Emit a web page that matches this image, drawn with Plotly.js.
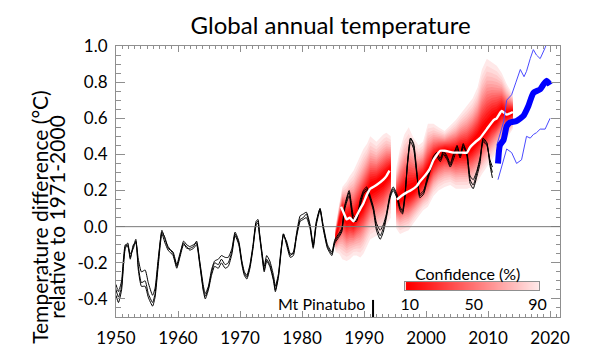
<!DOCTYPE html>
<html>
<head>
<meta charset="utf-8">
<script src="https://cdn.plot.ly/plotly-3.0.1.min.js"></script>
<style>html,body{margin:0;padding:0;background:#fff;}#chart{width:600px;height:362px;}</style>
</head>
<body>
<div id="chart"></div>
<script>
// ---------- observed annual temperature (three datasets, smoothed) ----------
const obsYears = [
 1950.0,1950.4,1950.9,1951.2,1951.5,1951.9,1952.3,1952.8,1953.2,1953.6,
 1954.1,1954.7,1955.2,1955.9,1956.3,1956.8,1957.4,1957.9,1958.4,1959.2,
 1959.8,1960.3,1960.9,1961.4,1961.9,1962.5,1963.0,1963.5,1964.1,1964.4,
 1964.9,1965.4,1965.9,1966.5,1967.0,1967.6,1968.1,1968.7,1969.2,1969.8,
 1970.3,1970.7,1971.1,1971.6,1972.1,1972.6,1972.9,1973.1,1973.5,1973.9,
 1974.3,1974.8,1975.4,1975.7,1976.2,1976.6,1977.0,1977.5,1978.1,1978.6,
 1979.1,1979.7,1980.2,1980.7,1981.3,1981.8,1982.3,1982.9,1983.4,1984.1,
 1984.8,1985.3,1985.9,1986.4,1986.9,1987.6,1988.3,1988.8,1989.4,1989.9,
 1990.4,1990.9,1991.5,1992.0,1992.6,1993.1,1993.6,1994.2,1994.7,1995.3,
 1995.8,1996.2,1996.6,1997.0,1997.5,1998.0,1998.5,1999.0,1999.6,2000.1,
 2000.6,2001.2,2001.7,2002.3,2002.8,2003.4,2003.9,2004.4,2005.0,2005.5,
 2006.0,2006.6,2007.1,2007.6,2008.2,2008.7,2009.2,2009.8,2010.3,2010.7];
const obsA = [
 -0.35,-0.39,-0.33,-0.20,-0.11,-0.09,-0.17,-0.11,-0.07,-0.22,
 -0.31,-0.30,-0.37,-0.42,-0.37,-0.20,-0.02,-0.07,-0.11,-0.15,
 -0.22,-0.16,-0.08,-0.10,-0.11,-0.10,-0.09,-0.20,-0.35,-0.385,
 -0.34,-0.255,-0.20,-0.21,-0.18,-0.21,-0.20,-0.135,-0.04,-0.09,
 -0.20,-0.26,-0.28,-0.22,-0.11,0.02,0.03,-0.03,-0.14,-0.24,
 -0.18,-0.21,-0.29,-0.35,-0.27,-0.14,-0.04,-0.09,-0.16,-0.14,
 -0.05,0.04,0.05,0.07,0.00,-0.11,0.02,0.10,0.00,-0.11,
 -0.15,-0.08,-0.05,-0.02,0.11,0.19,0.04,0.04,0.13,0.19,
 0.21,0.17,0.10,0.00,-0.05,-0.01,0.06,0.17,0.21,0.17,
 0.10,0.08,0.17,0.355,0.49,0.45,0.30,0.17,0.19,0.26,
 0.32,0.39,0.41,0.37,0.41,0.38,0.34,0.39,0.45,0.39,
 0.45,0.41,0.26,0.23,0.30,0.37,0.49,0.465,0.355,0.30];
const obsB = [
 -0.32,-0.36,-0.30,-0.18,-0.10,-0.11,-0.15,-0.12,-0.08,-0.18,
 -0.25,-0.24,-0.31,-0.38,-0.34,-0.18,-0.03,-0.06,-0.12,-0.14,
 -0.21,-0.15,-0.09,-0.12,-0.12,-0.11,-0.08,-0.19,-0.33,-0.37,
 -0.33,-0.24,-0.19,-0.18,-0.16,-0.17,-0.17,-0.12,-0.03,-0.08,
 -0.19,-0.25,-0.27,-0.21,-0.10,0.03,0.04,-0.02,-0.13,-0.22,
 -0.16,-0.19,-0.27,-0.33,-0.26,-0.13,-0.05,-0.08,-0.15,-0.15,
 -0.04,0.06,0.07,0.08,0.01,-0.10,0.03,0.10,0.01,-0.10,
 -0.14,-0.07,-0.04,-0.01,0.12,0.20,0.06,0.05,0.15,0.20,
 0.22,0.18,0.11,0.02,-0.02,0.01,0.07,0.18,0.22,0.18,
 0.11,0.09,0.18,0.34,0.47,0.43,0.29,0.18,0.20,0.25,
 0.31,0.38,0.39,0.36,0.40,0.37,0.33,0.37,0.43,0.38,
 0.44,0.40,0.28,0.26,0.31,0.38,0.47,0.45,0.37,0.33];
const obsC = [
 -0.38,-0.42,-0.35,-0.22,-0.12,-0.10,-0.18,-0.10,-0.09,-0.24,
 -0.33,-0.33,-0.39,-0.44,-0.39,-0.22,-0.04,-0.09,-0.13,-0.16,
 -0.23,-0.17,-0.10,-0.11,-0.13,-0.12,-0.10,-0.21,-0.36,-0.40,
 -0.35,-0.27,-0.22,-0.23,-0.20,-0.23,-0.22,-0.15,-0.05,-0.10,
 -0.21,-0.27,-0.29,-0.23,-0.12,0.01,0.02,-0.04,-0.15,-0.25,
 -0.19,-0.22,-0.30,-0.36,-0.28,-0.15,-0.04,-0.10,-0.17,-0.16,
 -0.06,0.03,0.04,0.05,-0.01,-0.12,0.01,0.09,-0.01,-0.12,
 -0.16,-0.09,-0.06,-0.03,0.10,0.17,0.03,0.03,0.12,0.18,
 0.20,0.16,0.09,-0.02,-0.07,-0.03,0.05,0.16,0.20,0.16,
 0.09,0.07,0.16,0.35,0.49,0.46,0.31,0.16,0.18,0.24,
 0.30,0.37,0.40,0.38,0.42,0.39,0.35,0.40,0.44,0.40,
 0.46,0.39,0.24,0.21,0.28,0.35,0.48,0.46,0.34,0.27];

// ---------- hindcast ensemble mean (white) ----------
const hindA_x = [1986.3,1986.8,1987.2,1987.7,1988.3,1988.8,1989.4,1989.9,1990.5,1991.0,1992.0,1993.1,1993.6,1994.1];
const hindA_y = [0.11,0.07,0.04,0.05,0.03,0.06,0.10,0.13,0.18,0.21,0.23,0.26,0.28,0.31];
const hindB_x = [1995.3,1996.0,1996.9,1997.5,1998.5,1999.0,2000.0,2000.6,2001.2,2002.3,2003.0,2004.4,2005.5,2006.6,2007.1,2008.0,2008.7,2009.8,2010.9,2011.4,2012.2,2013.0,2014.0];
const hindB_y = [0.15,0.17,0.19,0.20,0.225,0.25,0.29,0.32,0.37,0.42,0.42,0.41,0.41,0.41,0.44,0.47,0.49,0.54,0.59,0.60,0.64,0.62,0.635];

// ---------- hindcast 90% confidence envelopes ----------
const bandA_x   = [1985.4,1986.0,1986.5,1987.2,1987.7,1988.3,1988.8,1989.4,1989.9,1990.5,1991.0,1992.0,1993.1,1993.6,1994.3];
const bandA_mid = [-0.06,0.03,0.09,0.04,0.05,0.03,0.06,0.10,0.13,0.18,0.21,0.23,0.26,0.28,0.31];
const bandA_hi  = [0.00,0.13,0.22,0.25,0.28,0.31,0.35,0.39,0.43,0.46,0.50,0.47,0.51,0.52,0.50];
const bandA_lo  = [-0.14,-0.15,-0.18,-0.19,-0.18,-0.16,-0.16,-0.17,-0.15,-0.11,-0.07,-0.05,-0.02,0.01,0.05];
const bandB_x   = [1995.2,1995.8,1996.5,1997.2,1998.0,1998.8,1999.5,2000.3,2001.2,2002.0,2003.0,2003.9,2004.8,2005.6,2006.6,2007.5,2008.3,2009.0,2009.8,2010.6,2011.4,2012.2,2013.0,2014.0];
const bandB_mid = [0.15,0.16,0.18,0.19,0.21,0.24,0.26,0.30,0.37,0.40,0.42,0.41,0.41,0.42,0.42,0.45,0.48,0.51,0.54,0.58,0.60,0.64,0.62,0.635];
const bandB_hi  = [0.33,0.43,0.51,0.55,0.49,0.45,0.47,0.57,0.57,0.55,0.53,0.56,0.59,0.63,0.67,0.71,0.77,0.87,0.93,0.91,0.89,0.85,0.79,0.73];
const bandB_lo  = [-0.01,-0.04,-0.03,-0.02,0.02,0.06,0.09,0.11,0.17,0.20,0.22,0.23,0.21,0.21,0.21,0.22,0.25,0.29,0.33,0.37,0.41,0.45,0.49,0.54];

// ---------- forecast (blue) ----------
const fcX    = [2011.6,2011.9,2012.5,2013.0,2013.5,2014.6,2015.7,2016.5,2017.3,2018.4,2019.0,2019.5,2020.0];
const fcMid  = [0.35,0.45,0.48,0.556,0.576,0.585,0.613,0.668,0.74,0.76,0.79,0.807,0.785];
const fcHiX  = [2011.4,2012.5,2013.0,2013.8,2014.5,2015.2,2015.8,2016.2,2016.8,2017.3,2017.8,2018.4,2019.2,2019.6,2020.0];
const fcHi   = [0.45,0.58,0.70,0.73,0.80,0.87,0.83,0.86,0.93,0.98,0.95,0.93,0.99,1.03,1.02];
const fcLoX  = [2011.6,2012.2,2013.0,2013.8,2014.6,2015.4,2016.2,2016.8,2017.3,2017.8,2018.4,2019.2,2019.6,2020.0];
const fcLo   = [0.26,0.34,0.43,0.41,0.35,0.37,0.50,0.49,0.51,0.52,0.54,0.54,0.57,0.60];

// ---------- confidence levels (%) and their normal quantiles ----------
const levels = [90,85,80,75,70,65,60,55,50,45,40,35,30,25,20,15,10];
const levelZ = [1.645,1.440,1.282,1.150,1.036,0.935,0.842,0.755,0.674,0.598,0.524,0.454,0.385,0.319,0.253,0.189,0.126];
const confTickVals = [10,50,90];
const yTickVals = [-0.4,-0.2,0.0,0.2,0.4,0.6,0.8,1.0];
const yTickText = ['-0.4','-0.2','0.0','0.2','0.4','0.6','0.8','1.0'];
const eruptionYear = 1991.45;

const FONT = 'Lato, "Noto Sans", sans-serif';
const GRAY = '#8f8f8f';

function levelColor(p){
  const t = (p-10)/80;
  const g = Math.round(t*232);
  return 'rgb(255,'+g+','+g+')';
}

const traces = [];
function addBands(bx, mid, lo, hi){
  levels.forEach((p,i)=>{
    const r = Math.pow(levelZ[i]/levelZ[0], 0.8);
    const up = mid.map((m,k)=> m + (hi[k]-m)*r);
    const dn = mid.map((m,k)=> m - (m-lo[k])*r);
    traces.push({
      x: bx.concat(bx.slice().reverse()),
      y: dn.concat(up.slice().reverse()),
      fill:'toself', mode:'lines', line:{width:0},
      fillcolor: levelColor(p), hoverinfo:'skip', showlegend:false
    });
  });
}
addBands(bandA_x, bandA_mid, bandA_lo, bandA_hi);
addBands(bandB_x, bandB_mid, bandB_lo, bandB_hi);

[obsA, obsB, obsC].forEach(s=>{
  traces.push({x:obsYears, y:s, mode:'lines', line:{color:'#000', width:1, shape:'spline', smoothing:0.5}, showlegend:false});
});
traces.push({x:hindA_x, y:hindA_y, mode:'lines', line:{color:'#fff', width:2.4, shape:'spline', smoothing:0.5}, showlegend:false});
traces.push({x:hindB_x, y:hindB_y, mode:'lines', line:{color:'#fff', width:2.4, shape:'spline', smoothing:0.5}, showlegend:false});
traces.push({x:fcHiX, y:fcHi, mode:'lines', line:{color:'#4a4aff', width:1}, showlegend:false});
traces.push({x:fcLoX, y:fcLo, mode:'lines', line:{color:'#4a4aff', width:1}, showlegend:false});
traces.push({x:fcX, y:fcMid, mode:'lines', line:{color:'#0000ff', width:6, shape:'spline', smoothing:0.5}, showlegend:false});

// confidence colour bar
const confLevels = levels.slice().reverse();
traces.push({
  type:'heatmap', xaxis:'x2', yaxis:'y2',
  x: confLevels, y:[0,1], z:[confLevels, confLevels],
  zmin:10, zmax:90, zsmooth:'best', showscale:false, hoverinfo:'skip',
  colorscale:[[0,levelColor(10)],[1,levelColor(90)]]
});

const layout = {
  width:600, height:362,
  margin:{l:116, r:40, t:46, b:45},
  paper_bgcolor:'#fff', plot_bgcolor:'#fff',
  font:{family:FONT, color:'#000'},
  title:{text:'Global annual temperature', x:0.551, xanchor:'center', y:0.93, yanchor:'middle', font:{size:24, family:FONT, color:'#000'}},
  xaxis:{range:[1950,2021.6], tick0:1950, dtick:10, ticks:'inside', ticklen:6, tickcolor:GRAY, tickwidth:1,
    minor:{dtick:1, ticks:'inside', ticklen:3, tickcolor:GRAY},
    showline:true, linecolor:GRAY, linewidth:1, mirror:'ticks', showgrid:false, zeroline:false,
    tickfont:{size:17}, ticklabelstandoff:6},
  yaxis:{range:[-0.5,1.0], tickmode:'array', tickvals:yTickVals, ticktext:yTickText, ticks:'inside', ticklen:9, tickcolor:GRAY,
    minor:{dtick:0.05, tick0:0, ticks:'inside', ticklen:4.5, tickcolor:GRAY},
    showline:true, linecolor:GRAY, linewidth:1, mirror:'ticks', showgrid:false, zeroline:false,
    tickfont:{size:17}, ticklabelstandoff:4},
  xaxis2:{domain:[0.651,0.953], range:[7,91], anchor:'y2', tickmode:'array', tickvals:confTickVals, ticks:'',
    showline:true, mirror:true, linecolor:GRAY, showgrid:false, zeroline:false, tickfont:{size:16}, ticklabelstandoff:0},
  yaxis2:{domain:[0.0996,0.129], range:[-0.5,1.5], anchor:'x2', showticklabels:false, ticks:'',
    showline:true, mirror:true, linecolor:GRAY, showgrid:false, zeroline:false},
  shapes:[
    {type:'line', xref:'paper', x0:0, x1:1, yref:'y', y0:0, y1:0, line:{color:'#7a7a7a', width:1}, layer:'above'},
    {type:'line', xref:'x', x0:eruptionYear, x1:eruptionYear, yref:'paper', y0:0, y1:0.063, line:{color:'#000', width:2}, layer:'above'}
  ],
  annotations:[
    {text:'Temperature difference (°C)', xref:'paper', yref:'paper', x:-0.171, y:0.37, xanchor:'center', yanchor:'middle', textangle:-90, showarrow:false, font:{size:21}},
    {text:'relative to 1971-2000', xref:'paper', yref:'paper', x:-0.133, y:0.37, xanchor:'center', yanchor:'middle', textangle:-90, showarrow:false, font:{size:21}},
    {text:'Mt Pinatubo', xref:'paper', yref:'paper', x:0.565, y:0.048, xanchor:'right', yanchor:'middle', showarrow:false, font:{size:16}},
    {text:'Confidence (%)', xref:'paper', yref:'paper', x:0.792, y:0.159, xanchor:'center', yanchor:'middle', showarrow:false, font:{size:16}}
  ]
};

Plotly.newPlot('chart', traces, layout, {staticPlot:true, displayModeBar:false});
</script>
</body>
</html>
